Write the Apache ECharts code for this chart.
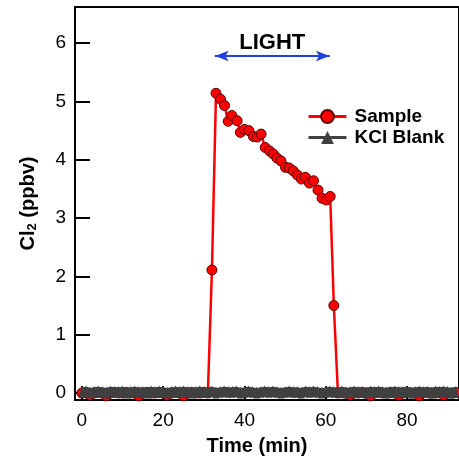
<!DOCTYPE html>
<html>
<head>
<meta charset="utf-8">
<script src="https://cdn.jsdelivr.net/npm/echarts@6/dist/echarts.min.js"></script>
<style>
  html, body { margin: 0; padding: 0; background: #fff; }
  #chart { width: 459px; height: 461px; }
</style>
</head>
<body>
<div id="chart"></div>
<script>
// Sample: baseline before the light (t = 0..31, 1 min apart)
const sampleBefore = [0.00, 0.00, -0.04, 0.00, 0.01, 0.00, -0.05, 0.00, 0.01, 0.00,
  0.00, 0.01, 0.00, 0.00, -0.05, 0.00, 0.01, 0.00, 0.00, 0.01,
  0.00, -0.04, 0.00, 0.01, 0.00, -0.05, 0.00, 0.01, 0.00, 0.00,
  0.01, 0.00];
// Sample: light on
const samplePeakTime = [32.0, 33.0, 34.1, 35.1, 36.0, 36.9, 38.2, 39.0, 40.0, 41.1,
  42.2, 43.1, 44.1, 45.1, 46.2, 47.1, 48.0, 49.0, 50.1, 51.0,
  52.0, 53.0, 54.0, 55.0, 56.0, 57.0, 58.1, 59.1, 60.1, 61.1, 62.0];
const samplePeakVal = [2.11, 5.14, 5.04, 4.93, 4.66, 4.76, 4.67, 4.47, 4.52, 4.50,
  4.40, 4.39, 4.44, 4.21, 4.15, 4.10, 4.03, 3.98, 3.87, 3.86,
  3.81, 3.74, 3.67, 3.70, 3.60, 3.64, 3.48, 3.34, 3.31, 3.37, 1.50];
// Sample: baseline after the light (t = 63..92)
const sampleAfter = [0.00, 0.01, 0.00, -0.04, 0.00, 0.00, 0.01, 0.00, -0.05, 0.00,
  0.01, 0.00, 0.00, 0.01, 0.00, -0.04, 0.00, 0.01, 0.00, 0.00,
  -0.05, 0.00, 0.01, 0.00, 0.00, 0.01, -0.04, 0.00, 0.00, 0.01];

// KCl blank, t = 0..92, 1 min apart
const blankVal = [0.02, 0.03, 0.01, 0.02, 0.03, 0.02, 0.01, 0.03, 0.02, 0.02,
  0.03, 0.01, 0.02, 0.03, 0.02, 0.02, 0.01, 0.03, 0.02, 0.03,
  0.02, 0.01, 0.02, 0.03, 0.02, 0.03, 0.02, 0.01, 0.02, 0.03,
  0.02, 0.02, 0.03, 0.01, 0.02, 0.03, 0.02, 0.02, 0.03, 0.01,
  0.02, 0.03, 0.02, 0.01, 0.02, 0.03, 0.02, 0.03, 0.02, 0.01,
  0.02, 0.03, 0.02, 0.02, 0.01, 0.03, 0.02, 0.03, 0.02, 0.01,
  0.02, 0.03, 0.02, 0.02, 0.03, 0.01, 0.02, 0.03, 0.02, 0.02,
  0.01, 0.03, 0.02, 0.03, 0.02, 0.01, 0.02, 0.03, 0.02, 0.02,
  0.03, 0.01, 0.02, 0.03, 0.02, 0.02, 0.01, 0.03, 0.02, 0.03,
  0.02, 0.01, 0.02];

const xTicks = [0, 20, 40, 60, 80];
const yTicks = [0, 1, 2, 3, 4, 5, 6];
const lightSpan = [32.7, 61.0];
const lightLevel = 5.78;

const sampleData = [];
sampleBefore.forEach((v, i) => sampleData.push([i, v]));
samplePeakTime.forEach((t, i) => sampleData.push([t, samplePeakVal[i]]));
sampleAfter.forEach((v, i) => sampleData.push([63 + i, v]));
const blankData = blankVal.map((v, i) => [i, v]);

const font = 'Liberation Sans, Arial, sans-serif';
const chart = echarts.init(document.getElementById('chart'));

chart.setOption({
  animation: false,
  textStyle: { fontFamily: font },
  grid: {
    left: 75, top: 7, right: -5, bottom: 61,
    show: true, borderColor: '#000', borderWidth: 2
  },
  legend: {
    orient: 'vertical',
    left: 307, top: 107, padding: 0,
    itemWidth: 38, itemHeight: 16, itemGap: 2,
    lineStyle: { width: 3 },
    textStyle: { fontFamily: font, fontSize: 19, fontWeight: 'bold', color: '#000', padding: [0, 0, 0, 3] },
    data: ['Sample', 'KCl Blank']
  },
  xAxis: {
    type: 'value', min: -1.7, max: 92.8,
    name: 'Time (min)', nameLocation: 'middle', nameGap: 36,
    nameTextStyle: { fontFamily: font, fontSize: 20, fontWeight: 'bold', color: '#000', padding: [0, 20, 0, 0] },
    axisLine: { onZero: false, lineStyle: { color: '#000', width: 2 } },
    axisTick: { inside: true, length: 14, customValues: xTicks, lineStyle: { color: '#000', width: 2 } },
    axisLabel: { customValues: xTicks, margin: 11, fontSize: 19, color: '#000', fontFamily: font },
    splitLine: { show: false }
  },
  yAxis: {
    type: 'value', min: -0.12, max: 6.62,
    name: 'Cl{sub|2} (ppbv)', nameLocation: 'middle', nameGap: 36,
    nameTextStyle: {
      fontFamily: font, fontSize: 20, fontWeight: 'bold', color: '#000',
      rich: { sub: { fontSize: 13, fontWeight: 'bold', fontFamily: font, verticalAlign: 'bottom', padding: [8, 0, 0, 0] } }
    },
    axisLine: { onZero: false, lineStyle: { color: '#000', width: 2 } },
    axisTick: { inside: true, length: 15, customValues: yTicks, lineStyle: { color: '#000', width: 2 } },
    axisLabel: { customValues: yTicks, margin: 9, fontSize: 19, color: '#000', fontFamily: font },
    splitLine: { show: false }
  },
  series: [
    {
      name: 'Sample', type: 'line', data: sampleData, z: 2,
      symbol: 'circle', symbolSize: 10, showAllSymbol: true,
      lineStyle: { color: '#ff0000', width: 2.5 },
      itemStyle: { color: '#ff0000', borderColor: '#5a0000', borderWidth: 1 },
      markLine: {
        silent: true,
        symbol: ['arrow', 'arrow'], symbolSize: [8, 14],
        lineStyle: { color: '#1f3fe0', width: 2, type: 'solid' },
        label: {
          show: true, position: 'insideMiddleTop', distance: 2, formatter: 'LIGHT',
          fontFamily: font, fontSize: 22, fontWeight: 'bold', color: '#000'
        },
        data: [[{ coord: [lightSpan[0], lightLevel] }, { coord: [lightSpan[1], lightLevel] }]]
      }
    },
    {
      name: 'KCl Blank', type: 'line', data: blankData, z: 3,
      symbol: 'triangle', symbolSize: [7, 12], showAllSymbol: true,
      lineStyle: { color: '#404040', width: 9 },
      itemStyle: { color: '#404040', borderColor: '#404040', borderWidth: 0 }
    }
  ]
});
</script>
</body>
</html>
